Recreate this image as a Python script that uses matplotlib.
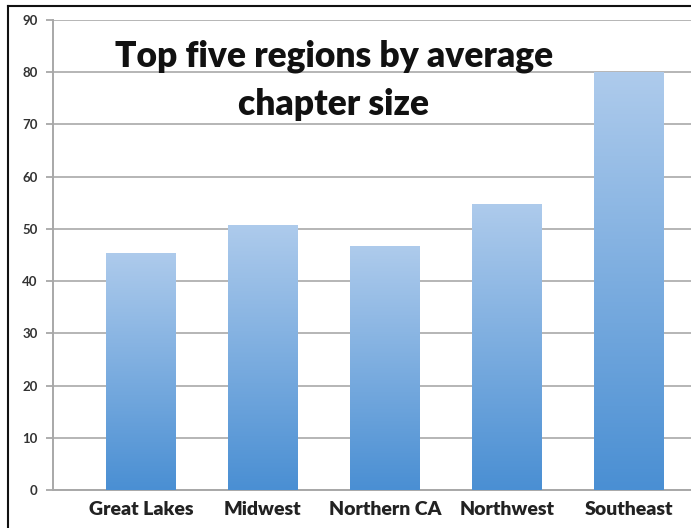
import matplotlib
matplotlib.use("Agg")
import matplotlib.pyplot as plt
import numpy as np
from matplotlib.colors import LinearSegmentedColormap
from matplotlib.lines import Line2D

categories = ["Great Lakes", "Midwest", "Northern CA", "Northwest", "Southeast"]
values = [45.4, 50.8, 46.7, 54.8, 80.0]
yticks = [0, 10, 20, 30, 40, 50, 60, 70, 80, 90]
title = "Top five regions by average\nchapter size"

plt.rcParams['font.family'] = ['Lato', 'DejaVu Sans']

W, H = 691, 528
fig = plt.figure(figsize=(W / 100, H / 100), dpi=100)
fig.patch.set_facecolor("white")

left_px, right_px, top_px, bottom_px = 53, 691, 20, 490
ax = fig.add_axes([left_px / W, 1 - bottom_px / H, (right_px - left_px) / W, (bottom_px - top_px) / H])

x = np.arange(len(categories))
bars = ax.bar(x, values, width=0.57, color="none", edgecolor="none", zorder=3)

cmap = LinearSegmentedColormap.from_list("g", ["#4a8fd3", "#aecbec"])
grad = np.linspace(0, 1, 256).reshape(-1, 1)
for b in bars:
    x0, y0 = b.get_x(), b.get_y()
    w, h = b.get_width(), b.get_height()
    im = ax.imshow(grad, cmap=cmap, origin="lower", aspect="auto",
                   extent=(x0, x0 + w, y0, y0 + h), zorder=3)
    im.set_clip_path(b)

ax.set_xlim(-0.72, 4.51)
ax.set_ylim(0, 90)
ax.set_yticks(yticks)
ax.set_yticklabels([str(t) for t in yticks], fontsize=9.5, fontweight="bold", color="#333333")
ax.set_xticks(x)
ax.set_xticklabels(categories, fontsize=14, fontweight="heavy", color="#222222")
ax.tick_params(axis="x", length=0, pad=8)
ax.tick_params(axis="y", length=5, width=1.2, color="#a0a0a0", pad=6)

ax.yaxis.grid(True, color="#b5b5b5", linewidth=1.4, zorder=1)
ax.set_axisbelow(True)
for s in ["top", "right"]:
    ax.spines[s].set_visible(False)
for s in ["left", "bottom"]:
    ax.spines[s].set_color("#a8a8a8")
    ax.spines[s].set_linewidth(1.4)

fig.text(334 / W, 1 - 80 / H, title, ha="center", va="center", fontsize=25.5,
         fontweight="heavy", color="#111111", linespacing=1.55)

# outer frame (top and left edges visible)
fig.add_artist(Line2D([8 / W, 8 / W], [0, 1 - 6 / H], color="#111111", linewidth=1.5, transform=fig.transFigure))
fig.add_artist(Line2D([8 / W, 1], [1 - 6 / H, 1 - 6 / H], color="#111111", linewidth=1.5, transform=fig.transFigure))

fig.savefig("out.png", dpi=100, facecolor="white")
